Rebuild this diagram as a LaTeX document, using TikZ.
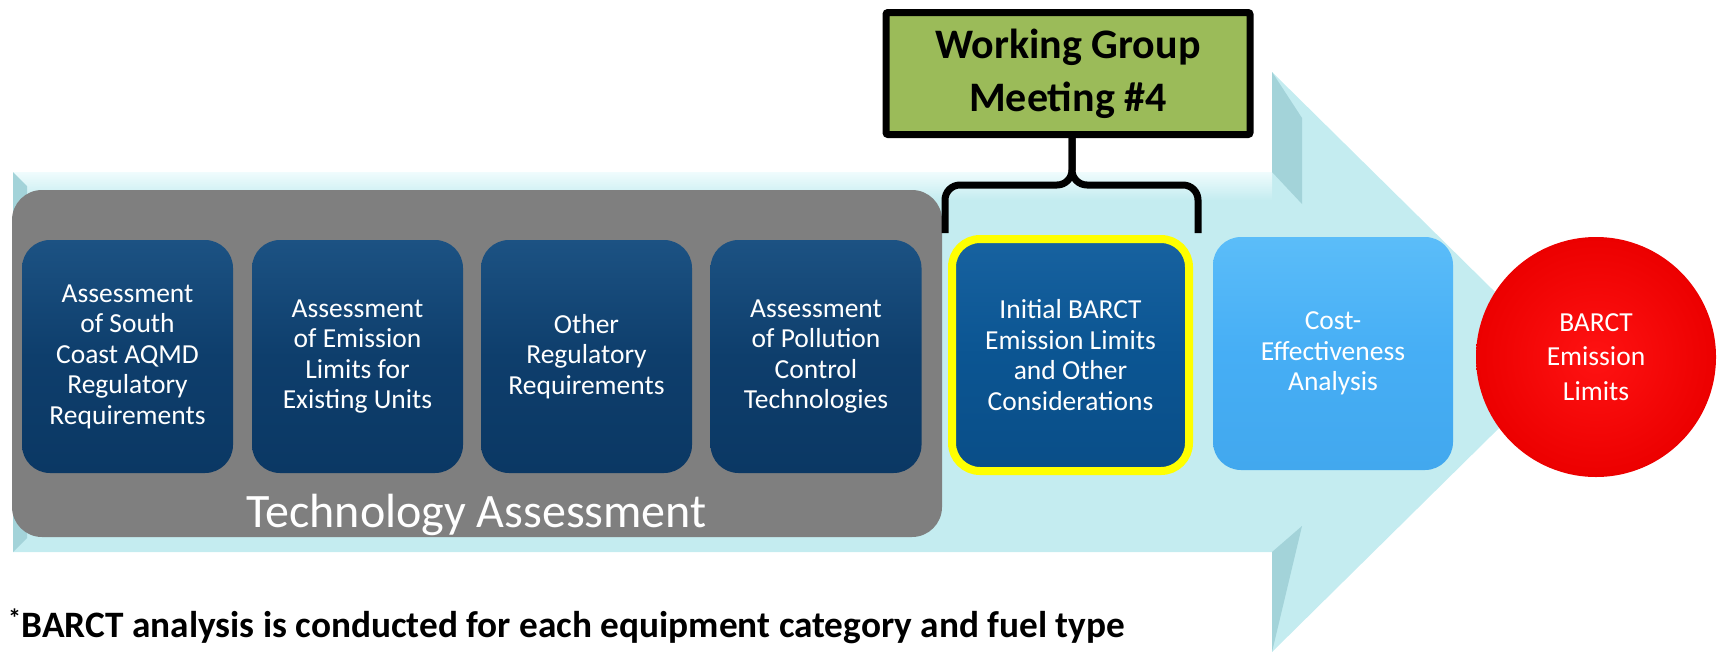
\documentclass[tikz,border=0pt]{standalone}
\usepackage{fontspec}
\setmainfont{Carlito}
\definecolor{arrowcyan}{HTML}{C4ECF0}
\definecolor{arrowlight}{HTML}{F0FCFD}
\definecolor{arrowbevel}{HTML}{A3D3D9}
\definecolor{techgray}{HTML}{7F7F7F}
\definecolor{navytop}{HTML}{1C5283}
\definecolor{navymid}{HTML}{0E3E6C}
\definecolor{navybot}{HTML}{0B3864}
\definecolor{initop}{HTML}{1762A0}
\definecolor{inimid}{HTML}{0B5592}
\definecolor{inibot}{HTML}{0A4E88}
\definecolor{costtop}{HTML}{5BBDF9}
\definecolor{costmid}{HTML}{46AEF5}
\definecolor{costbot}{HTML}{42A8EE}
\definecolor{wggreen}{HTML}{9BBB59}
\definecolor{hiyellow}{HTML}{FFFF00}
\definecolor{redin}{HTML}{FF1212}
\definecolor{redout}{HTML}{EC0000}
\begin{document}
\begin{tikzpicture}[x=1pt,y=-1pt,
  boxtext/.style={text=white, align=center, inner sep=0pt,
    font=\fontsize{27.5}{30.5}\selectfont},
  navybox/.style={boxtext, rounded corners=28pt, minimum width=211pt, minimum height=233pt,
    top color=navytop, bottom color=navybot, middle color=navymid},
  initbox/.style={boxtext, rounded corners=28pt, minimum width=237pt, minimum height=232pt,
    draw=hiyellow, line width=8pt,
    top color=initop, bottom color=inibot, middle color=inimid},
  costbox/.style={boxtext, rounded corners=28pt, minimum width=240pt, minimum height=233pt,
    top color=costtop, bottom color=costbot, middle color=costmid},
  goalcircle/.style={boxtext, circle, minimum size=240pt,
    inner color=redin, outer color=redout, font=\fontsize{27.5}{34.5}\selectfont},
  wgbox/.style={draw=black, line width=7pt, fill=wggreen, rounded corners=2pt,
    minimum width=364pt, minimum height=122pt, align=center, inner sep=0pt,
    font=\fontsize{42}{53}\selectfont\bfseries},
  bracestyle/.style={draw=black, line width=7pt, rounded corners=15pt},
  ]
\useasboundingbox (0,0) rectangle (1723,651);
\clip (0,0) rectangle (1723,651);

% big arrow
\fill[arrowcyan] (13,172) -- (1272,172) -- (1272,72) -- (1566,362) -- (1272,652)
  -- (1272,552) -- (13,552) -- cycle;
\shade[top color=arrowlight, bottom color=arrowcyan] (13,172) rectangle (1272,200);
\fill[arrowbevel] (1272,72) -- (1272,172) -- (1302,204) -- (1302,118) -- cycle;
\fill[arrowbevel] (1272,552) -- (1272,652) -- (1302,526) -- cycle;
\fill[arrowbevel] (13,172) -- (27,186) -- (27,538) -- (13,552) -- cycle;

% technology assessment panel
\node[fill=techgray, rounded corners=30pt, minimum width=930pt, minimum height=347pt,
  inner sep=0pt] (panel) at (477,363.5) {};
\node[text=white, font=\fontsize{48}{56}\selectfont, inner sep=0pt, anchor=base] (techlabel)
  at (476.5,527) {Technology Assessment};

\node[navybox] (b1) at (127.5,356.5) {Assessment\\of South\\Coast AQMD\\Regulatory\\Requirements};
\node[navybox] (b2) at (357.5,356.5) {Assessment\\of Emission\\Limits for\\Existing Units};
\node[navybox] (b3) at (586.5,356.5) {Other\\Regulatory\\Requirements};
\node[navybox] (b4) at (816,356.5) {Assessment\\of Pollution\\Control\\Technologies};

\node[initbox] (b5) at (1070.5,355) {Initial BARCT\\Emission Limits\\and Other\\Considerations};
\node[costbox] (b6) at (1333,353.5) {Cost-\\Effectiveness\\Analysis};
\node[goalcircle] (c) at (1596,357) {BARCT\\Emission\\Limits};

% working group box and brace
\node[wgbox] (g) at (1068,73.5) {Working Group\\Meeting \#4};
\coordinate (bl) at (945,233);
\coordinate (br) at (1198,233);
\coordinate (bm) at (1072,185);
\draw[bracestyle] (bl) |- (bm) -- (bm |- g.south);
\draw[bracestyle] (br) |- (bm) -- (bm |- g.south);

% footnote
\node[anchor=base west, inner sep=0pt, font=\fontsize{37.3}{42}\selectfont\bfseries] (note)
  at (8,637) {\textsuperscript{*}BARCT analysis is conducted for each equipment category and fuel type};
\end{tikzpicture}
\end{document}
